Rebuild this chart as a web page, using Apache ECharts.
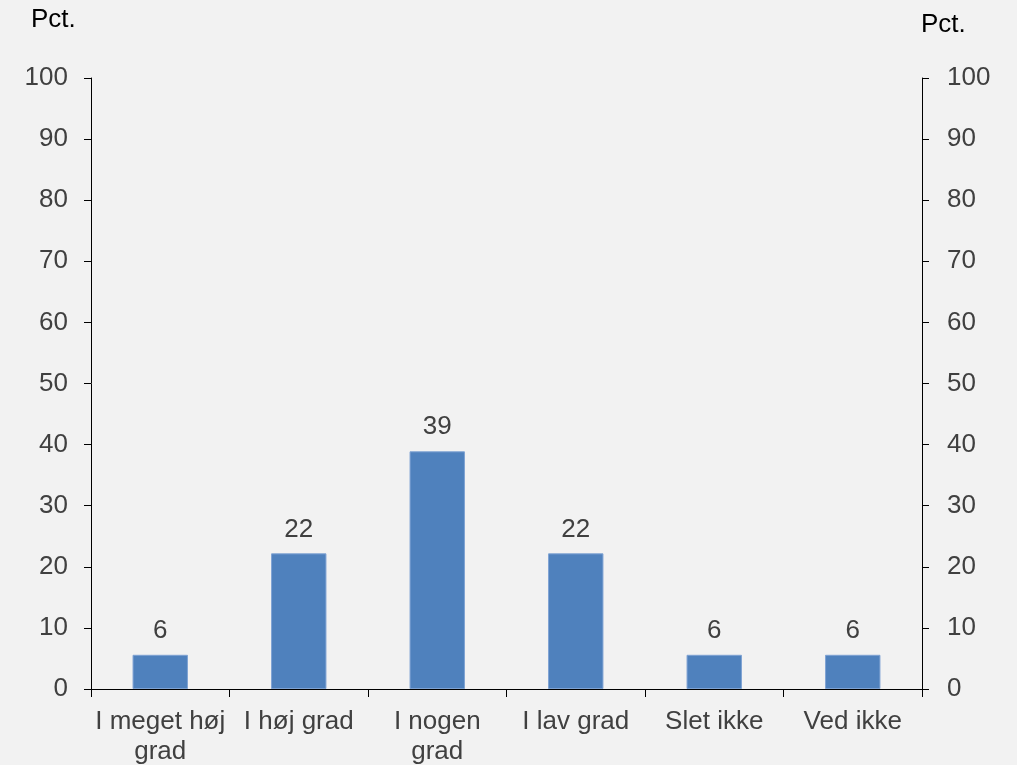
<!DOCTYPE html>
<html>
<head>
<meta charset="utf-8">
<script src="https://cdn.jsdelivr.net/npm/echarts@6/dist/echarts.min.js"></script>
<style>
    html, body { margin: 0; padding: 0; background: #f2f2f2; }
    #chart { width: 1017px; height: 765px; }
</style>
</head>
<body>
<div id="chart"></div>
<script>
    // kategorier og andele (pct.)
    var categories = ['I meget høj\ngrad', 'I høj grad', 'I nogen\ngrad', 'I lav grad', 'Slet ikke', 'Ved ikke'];
    var values = [5.6, 22.2, 38.9, 22.2, 5.6, 5.6];
    var yTicks = { min: 0, max: 100, interval: 10 };

    var chart = echarts.init(document.getElementById('chart'));
    var font = 'Liberation Sans, Arial, sans-serif';
    var fs = 26;

    var yAxisBase = function (pos, margin) {
        return {
            type: 'value',
            position: pos,
            min: yTicks.min,
            max: yTicks.max,
            interval: yTicks.interval,
            axisLine: { show: true, lineStyle: { color: '#000', width: 1 } },
            axisTick: { show: true, length: 7, lineStyle: { color: '#000' } },
            axisLabel: { color: '#404040', fontSize: fs, fontFamily: font, margin: margin },
            splitLine: { show: false }
        };
    };

    var option = {
        backgroundColor: '#f2f2f2',
        animation: false,
        grid: { left: 91, right: 95, top: 78, bottom: 76, containLabel: false, outerBoundsMode: 'none' },
        xAxis: {
            type: 'category',
            data: categories,
            boundaryGap: true,
            axisLine: { lineStyle: { color: '#000', width: 1 } },
            axisTick: { show: true, length: 8, inside: false, alignWithLabel: false, lineStyle: { color: '#000' } },
            axisLabel: { color: '#404040', fontSize: fs, fontFamily: font, margin: 18, lineHeight: 30, interval: 0 }
        },
        yAxis: [yAxisBase('left', 23), yAxisBase('right', 25)],
        graphic: [
            { type: 'text', left: 31, top: 7, style: { text: 'Pct.', fontSize: fs, fontFamily: font, fill: '#000' } },
            { type: 'text', left: 921, top: 12, style: { text: 'Pct.', fontSize: fs, fontFamily: font, fill: '#000' } }
        ],
        series: [{
            type: 'bar',
            data: values,
            barWidth: '40%',
            itemStyle: { color: '#4f81bd', borderColor: '#7fa3d3', borderWidth: 1 },
            label: {
                show: true,
                position: 'top',
                distance: 11,
                color: '#404040',
                fontSize: fs,
                fontFamily: font,
                formatter: function (p) { return Math.round(p.value); }
            }
        }]
    };

    chart.setOption(option);
</script>
</body>
</html>
